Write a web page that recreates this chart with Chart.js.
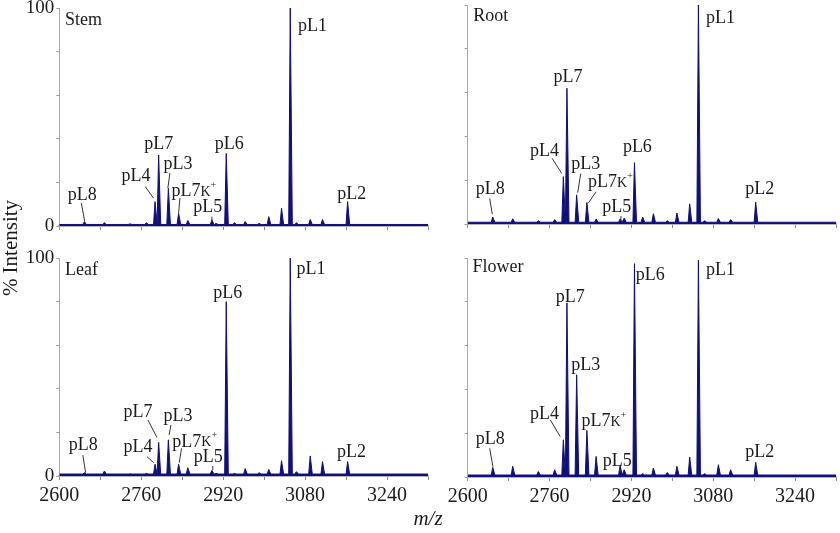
<!DOCTYPE html>
<html>
<head>
<meta charset="utf-8">
<script src="https://cdn.jsdelivr.net/npm/chart.js@4.4.1/dist/chart.umd.min.js"></script>
<style>
  html, body { margin: 0; padding: 0; background: #fff; }
  #wrap { position: relative; width: 840px; height: 533px; overflow: hidden; font-family: "Liberation Serif", serif; color: #1a1a1a; }
  canvas { position: absolute; }
  #xTitle { position: absolute; left: 0; width: 856px; top: 506px; text-align: center; font-style: italic; font-size: 21px; line-height: 24px; }
  #yTitle { position: absolute; left: -50px; top: 236px; width: 120px; text-align: center; font-size: 21px; line-height: 24px; transform: rotate(-90deg); }
</style>
</head>
<body>
<div id="wrap">
  <canvas id="stem" width="432" height="252" style="left:0;top:-12px"></canvas>
  <canvas id="root" width="408" height="252" style="left:432px;top:-12px"></canvas>
  <canvas id="leaf" width="432" height="305" style="left:0;top:228px"></canvas>
  <canvas id="flower" width="408" height="305" style="left:432px;top:228px"></canvas>
  <div id="yTitle">% Intensity</div>
  <div id="xTitle">m/z</div>
</div>
<script>
// peak positions (m/z) shared by the four spectra
const mzPeaks = [2649, 2688, 2738, 2770, 2787, 2794, 2813, 2833, 2851, 2898, 2906, 2926, 2942, 2963, 2990, 3009, 3034, 3051, 3063, 3090, 3114, 3163];

// relative intensity (%) of each peak
const stemInt   = [2.0, 1.5, 1.0, 1.5, 11.2, 32.6, 17.3, 5.8, 2.5, 2.8, 1.2, 33.3, 1.5, 2.0, 1.2, 4.3, 8.1, 100, 1.5, 3.0, 3.0, 11.2];
const rootInt   = [3.2, 2.4, 1.5, 2.0, 21.6, 62.0, 13.3, 9.8, 2.3, 2.3, 2.7, 28.0, 3.2, 4.7, 1.5, 5.0, 9.2, 100, 1.5, 2.5, 2.0, 10.0];
const leafInt   = [1.5, 2.3, 1.0, 1.2, 5.4, 15.4, 16.6, 5.4, 3.8, 2.6, 1.2, 80.0, 1.2, 3.4, 1.5, 3.0, 7.0, 100, 2.0, 9.2, 6.6, 6.6];
const flowerInt = [4.4, 4.9, 2.5, 3.3, 17.0, 79.5, 46.7, 21.3, 9.4, 5.2, 3.3, 97.4, 1.5, 4.1, 2.0, 4.9, 9.1, 99.0, 1.5, 5.6, 3.3, 6.7];

// baseline level of each spectrum (%)
const baseLevels = { stem: 0.7, root: 0.8, leaf: 0.9, flower: 0.9 };

// tick labels
const xTickLabels = [2600, 2760, 2920, 3080, 3240];
const yTickLabels = [0, 100];

// peak annotations (data units), leader lines as [mz1, i1, mz2, i2]
const stemNotes = [
  { t: 'Stem', mz: 2611, i: 94.5, a: 'left' },
  { t: 'pL8', mz: 2645, i: 14.2, lead: [2643, 10.6, 2649.5, 2.2] },
  { t: 'pL4', mz: 2750, i: 22.9, lead: [2768, 18, 2784, 12.8] },
  { t: 'pL7', mz: 2794, i: 37.6 },
  { t: 'pL3', mz: 2832, i: 28.4, lead: [2816, 24.3, 2812, 17.4] },
  { t: 'pL7', k: true, mz: 2819, i: 16, a: 'left', lead: [2835.6, 12.8, 2833, 6] },
  { t: 'pL5', mz: 2890, i: 8.7, lead: [2898, 4.3, 2898, 2.2] },
  { t: 'pL6', mz: 2932, i: 37.6 },
  { t: 'pL1', mz: 3066, i: 91.7, a: 'left' },
  { t: 'pL2', mz: 3171, i: 14.7 }
];
const rootNotes = [
  { t: 'Root', mz: 2611, i: 95, a: 'left' },
  { t: 'pL1', mz: 3066, i: 94, a: 'left' },
  { t: 'pL7', mz: 2796, i: 66.9 },
  { t: 'pL4', mz: 2750, i: 33.3, lead: [2765, 30, 2784, 23] },
  { t: 'pL3', mz: 2830.6, i: 27.4, lead: [2821, 23, 2815, 14.3] },
  { t: 'pL7', k: true, mz: 2835.4, i: 19, a: 'left', lead: [2851, 14.7, 2836, 9.6] },
  { t: 'pL5', mz: 2891.6, i: 7.5, lead: [2899.5, 3.7, 2899.5, 1.8] },
  { t: 'pL6', mz: 2931.7, i: 34.9 },
  { t: 'pL2', mz: 3170.8, i: 16 },
  { t: 'pL8', mz: 2643.9, i: 16, lead: [2643, 11.7, 2648, 4.5] }
];
const leafNotes = [
  { t: 'Leaf', mz: 2611, i: 94.5, a: 'left' },
  { t: 'pL1', mz: 3063, i: 95, a: 'left' },
  { t: 'pL6', mz: 2929, i: 83.8 },
  { t: 'pL7', mz: 2753.8, i: 29.1, lead: [2773, 25.7, 2790.6, 17.7] },
  { t: 'pL3', mz: 2831.7, i: 27.2, lead: [2818, 23.4, 2814.4, 18.8] },
  { t: 'pL4', mz: 2753.8, i: 13.1, lead: [2771.3, 8.9, 2784.2, 6.1] },
  { t: 'pL7', k: true, mz: 2820.8, i: 15.7, a: 'left', lead: [2838.7, 12.7, 2834.3, 6.1] },
  { t: 'pL5', mz: 2890.7, i: 8.5, lead: [2899.7, 4.6, 2899.7, 2.8] },
  { t: 'pL8', mz: 2647, i: 13.9, lead: [2646, 9.6, 2651.4, 1.5] },
  { t: 'pL2', mz: 3170.8, i: 11.1 }
];
const flowerNotes = [
  { t: 'Flower', mz: 2609.6, i: 95.7, a: 'left' },
  { t: 'pL1', mz: 3066, i: 94.2, a: 'left' },
  { t: 'pL6', mz: 2928.5, i: 91.9, a: 'left' },
  { t: 'pL7', mz: 2800.4, i: 82 },
  { t: 'pL3', mz: 2830.6, i: 50.8 },
  { t: 'pL4', mz: 2750.3, i: 28.8, lead: [2761.7, 26, 2781, 18.4] },
  { t: 'pL7', k: true, mz: 2822.6, i: 25.3, a: 'left' },
  { t: 'pL5', mz: 2892.2, i: 7.4, lead: [2898, 3.6, 2898, 2.4] },
  { t: 'pL8', mz: 2643.9, i: 17.3, lead: [2643, 13.1, 2649.3, 4.7] },
  { t: 'pL2', mz: 3170.8, i: 11.2 }
];

const navy = '#10107a';
const textCol = '#1a1a1a';
const serif = 'Liberation Serif';

// spectrum profile: baseline with a narrow spike at every peak
function profile(vals, base) {
  const pts = [{ x: 2600, y: base }];
  mzPeaks.forEach((m, k) => {
    pts.push({ x: m - 3, y: base }, { x: m, y: vals[k] }, { x: m + 4, y: base });
  });
  pts.push({ x: 3320, y: base });
  return pts;
}

function notesPlugin(notes) {
  return {
    id: 'notes',
    afterDatasetsDraw(chart) {
      const { ctx } = chart;
      const x = chart.scales.x, y = chart.scales.y;
      ctx.save();
      ctx.fillStyle = textCol;
      ctx.strokeStyle = '#333';
      ctx.lineWidth = 1;
      ctx.textBaseline = 'middle';
      notes.forEach(n => {
        const px = x.getPixelForValue(n.mz);
        const py = y.getPixelForValue(n.i);
        ctx.font = '18px "' + serif + '"';
        const w1 = ctx.measureText(n.t).width;
        let total = w1, wK = 0;
        if (n.k) {
          ctx.font = '14px "' + serif + '"';
          wK = ctx.measureText('K').width;
          ctx.font = '10px "' + serif + '"';
          total = w1 + wK + ctx.measureText('+').width;
        }
        const left = n.a === 'left' ? px : px - total / 2;
        ctx.textAlign = 'left';
        ctx.font = '18px "' + serif + '"';
        ctx.fillText(n.t, left, py);
        if (n.k) {
          ctx.font = '14px "' + serif + '"';
          ctx.fillText('K', left + w1, py + 1);
          ctx.font = '10px "' + serif + '"';
          ctx.fillText('+', left + w1 + wK, py - 6);
        }
        if (n.lead) {
          ctx.beginPath();
          ctx.moveTo(x.getPixelForValue(n.lead[0]), y.getPixelForValue(n.lead[1]));
          ctx.lineTo(x.getPixelForValue(n.lead[2]), y.getPixelForValue(n.lead[3]));
          ctx.stroke();
        }
      });
      ctx.restore();
    }
  };
}

function makeChart(id, vals, base, notes, o) {
  return new Chart(document.getElementById(id), {
    type: 'line',
    data: {
      datasets: [{
        data: profile(vals, base),
        borderColor: navy,
        backgroundColor: navy,
        borderWidth: 1,
        fill: 'origin',
        pointRadius: 0,
        tension: 0
      }]
    },
    options: {
      responsive: false,
      animation: false,
      events: [],
      layout: { padding: { top: o.top, left: 0, right: 0, bottom: 0 } },
      plugins: { legend: { display: false }, tooltip: { enabled: false } },
      scales: {
        x: {
          type: 'linear', min: 2600, max: 3320,
          afterFit: s => { s.height = o.xH; },
          ticks: {
            stepSize: 80, autoSkip: false, maxRotation: 0, padding: 4, color: textCol,
            font: { family: serif, size: 20 },
            callback: v => (o.xLab && xTickLabels.includes(v)) ? String(v) : ''
          },
          grid: { drawOnChartArea: false, drawTicks: true, tickLength: 4, color: '#888' },
          border: { color: '#b4b4b4', width: 2 }
        },
        y: {
          min: 0, max: 100,
          afterFit: s => { s.width = o.yW; },
          ticks: {
            stepSize: 10, padding: 2, color: textCol,
            font: { family: serif, size: 19 },
            callback: v => (o.yLab && yTickLabels.includes(v)) ? String(v) : ''
          },
          grid: { drawOnChartArea: false, drawTicks: true, tickLength: 3, color: '#999' },
          border: { color: '#aaa', width: 1 }
        }
      }
    },
    plugins: [notesPlugin(notes)]
  });
}

makeChart('stem', stemInt, baseLevels.stem, stemNotes, { top: 20, xH: 14, yW: 59.3, xLab: false, yLab: true });
makeChart('root', rootInt, baseLevels.root, rootNotes, { top: 17, xH: 16, yW: 35.7, xLab: false, yLab: false });
makeChart('leaf', leafInt, baseLevels.leaf, leafNotes, { top: 30, xH: 57, yW: 59.3, xLab: true, yLab: true });
makeChart('flower', flowerInt, baseLevels.flower, flowerNotes, { top: 30, xH: 56, yW: 35.7, xLab: true, yLab: false });
</script>
</body>
</html>
